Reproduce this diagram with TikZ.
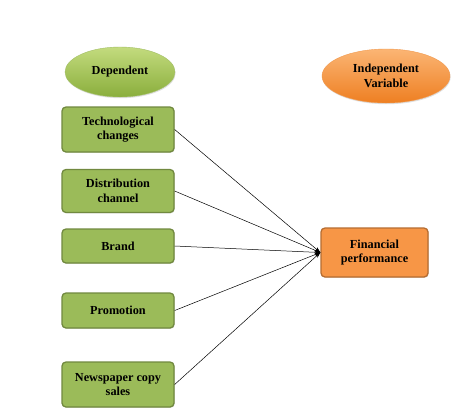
\documentclass[tikz,border=0pt]{standalone}
\usepackage{fontspec}
\setmainfont{Liberation Serif}
\usetikzlibrary{shapes.geometric,arrows.meta,shadows}
\definecolor{gfill}{HTML}{9BBB59}
\definecolor{gdraw}{HTML}{71893F}
\definecolor{gtop}{HTML}{C3DB7E}
\definecolor{gbot}{HTML}{8AAE3C}
\definecolor{ofill}{HTML}{F79646}
\definecolor{odraw}{HTML}{B66D31}
\definecolor{otop}{HTML}{FBB574}
\definecolor{obot}{HTML}{EE7F22}
\tikzset{
  txt/.style={font=\fontsize{12.3}{14.5}\selectfont\bfseries, align=center, text=black},
  gbox/.style={txt, rectangle, rounded corners=4pt, draw=gdraw, line width=1.3pt, fill=gfill,
     minimum width=112bp, minimum height=#1, inner sep=1pt,
     drop shadow={shadow xshift=0.8pt, shadow yshift=-0.8pt, opacity=0.25}},
  obox/.style={txt, rectangle, rounded corners=4pt, draw=odraw, line width=1.3pt, fill=ofill,
     minimum width=107bp, minimum height=49bp, inner sep=1pt,
     drop shadow={shadow xshift=0.8pt, shadow yshift=-0.8pt, opacity=0.25}},
  gell/.style={txt, ellipse, draw=gbot!80!white, line width=0.4pt, top color=gtop, bottom color=gbot,
     minimum width=110bp, minimum height=50bp, inner sep=0pt,
     drop shadow={shadow xshift=0.6pt, shadow yshift=-1.2pt, opacity=0.25}},
  oell/.style={txt, ellipse, draw=obot!80!white, line width=0.4pt, top color=otop, bottom color=obot,
     minimum width=128bp, minimum height=54bp, inner sep=0pt,
     drop shadow={shadow xshift=0.6pt, shadow yshift=-1.2pt, opacity=0.25}},
  link/.style={draw=black, line width=0.5pt, -{Stealth[length=6pt,width=4pt]}}
}
\begin{document}
\begin{tikzpicture}[x=1bp,y=-1bp]
\useasboundingbox[fill=white] (0,0) rectangle (453,408);
\node[gell] (dep) at (120,72) {Dependent};
\node[oell] (ind) at (386,76) {Independent\\Variable};
\node[gbox=45bp] (tech) at (118,129.5) {Technological\\changes};
\node[gbox=43bp] (dist) at (118,191) {Distribution\\channel};
\node[gbox=34bp] (brand) at (118,246) {Brand};
\node[gbox=35bp] (promo) at (118,310.5) {Promotion};
\node[gbox=45bp] (news) at (118,384.5) {Newspaper copy\\sales};
\node[obox] (fin) at (374.5,252.5) {Financial\\performance};
\foreach \n in {tech,dist,brand,promo,news}
  \draw[link] (\n.east) -- (fin.west);
\end{tikzpicture}
\end{document}
